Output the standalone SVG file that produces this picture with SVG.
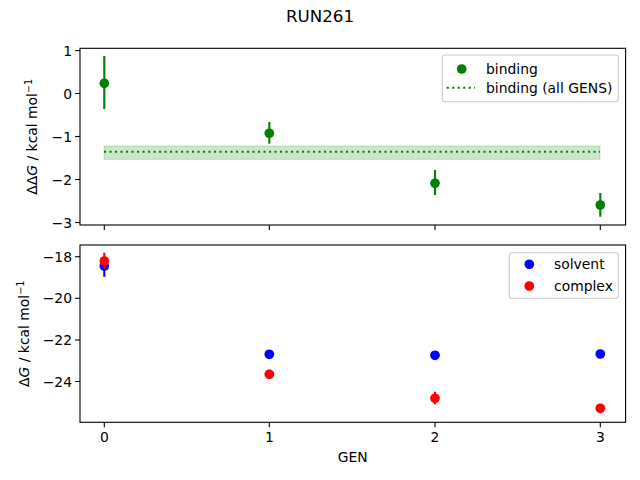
<svg xmlns="http://www.w3.org/2000/svg" width="640" height="480" viewBox="0 0 640 480">
<style>
text{font-family:"DejaVu Sans",sans-serif;font-size:13.9px;fill:#000}
.spine{fill:none;stroke:#000;stroke-width:1.1}
.tick{stroke:#000;stroke-width:1.1}
.g{fill:#008000}.ge{stroke:#008000;stroke-width:2.1}
.b{fill:#0000ff}.be{stroke:#0000ff;stroke-width:2.1}
.r{fill:#ff0000}.re{stroke:#ff0000;stroke-width:2.1}
.dot{stroke:#008000;stroke-width:2.1;stroke-dasharray:2.1 3.4;fill:none}
.leg{fill:#fff;fill-opacity:0.8;stroke:#cccccc;stroke-width:1.1}
.yt{text-anchor:end}.xt{text-anchor:middle}
</style>
<rect width="640" height="480" fill="#fff"/>
<text x="320" y="22" text-anchor="middle" style="font-size:16.7px">RUN261</text>

<g id="top-axes">
<rect x="104" y="146" width="496" height="13.3" fill="#008000" fill-opacity="0.2" stroke="#008000" stroke-opacity="0.2"/>
<line class="dot" x1="104" y1="151.7" x2="600" y2="151.7"/>
<g id="binding-points">
<line class="ge" x1="104.3" y1="56" x2="104.3" y2="109"/><circle class="g" cx="104.3" cy="83.3" r="4.85"/>
<line class="ge" x1="269.3" y1="122" x2="269.3" y2="143.7"/><circle class="g" cx="269.3" cy="133.3" r="4.85"/>
<line class="ge" x1="435" y1="170" x2="435" y2="195"/><circle class="g" cx="435" cy="183.3" r="4.85"/>
<line class="ge" x1="600.3" y1="193" x2="600.3" y2="216.7"/><circle class="g" cx="600.3" cy="205" r="4.85"/>
</g>
<rect class="spine" x="80" y="48.3" width="545.6" height="176.7"/>
<g class="tick">
<line x1="75.1" y1="50.6" x2="80" y2="50.6"/><line x1="75.1" y1="93.5" x2="80" y2="93.5"/><line x1="75.1" y1="136.5" x2="80" y2="136.5"/><line x1="75.1" y1="179.5" x2="80" y2="179.5"/><line x1="75.1" y1="222.5" x2="80" y2="222.5"/>
<line x1="104.3" y1="225" x2="104.3" y2="229.9"/><line x1="269.3" y1="225" x2="269.3" y2="229.9"/><line x1="435" y1="225" x2="435" y2="229.9"/><line x1="600.3" y1="225" x2="600.3" y2="229.9"/>
</g>
<text class="yt" x="72" y="55.6">1</text>
<text class="yt" x="72" y="98.5">0</text>
<text class="yt" x="72" y="141.5">−1</text>
<text class="yt" x="72" y="184.5">−2</text>
<text class="yt" x="72" y="227.5">−3</text>
<text transform="translate(37,136.7) rotate(-90)" text-anchor="middle">ΔΔ<tspan font-style="italic">G</tspan> / kcal mol<tspan dy="-5" style="font-size:9.7px">−1</tspan></text>
<g id="legend-top">
<rect class="leg" x="442.3" y="55" width="176" height="46.7" rx="2.8"/>
<circle class="g" cx="461.7" cy="69" r="4.85"/>
<line class="dot" x1="446.7" y1="87.7" x2="475" y2="87.7"/>
<text x="486" y="73.8">binding</text>
<text x="486" y="92.7">binding (all GENS)</text>
</g>
</g>

<g id="bottom-axes">
<g id="solvent-points">
<line class="be" x1="104.3" y1="257" x2="104.3" y2="276.7"/><circle class="b" cx="104.3" cy="266" r="4.85"/>
<circle class="b" cx="269.3" cy="354.3" r="4.85"/>
<circle class="b" cx="435" cy="355.3" r="4.85"/>
<circle class="b" cx="600.3" cy="354" r="4.85"/>
</g>
<g id="complex-points">
<line class="re" x1="104.3" y1="252.7" x2="104.3" y2="269"/><circle class="r" cx="104.3" cy="261" r="4.85"/>
<line class="re" x1="269.3" y1="369.7" x2="269.3" y2="379"/><circle class="r" cx="269.3" cy="374.3" r="4.85"/>
<line class="re" x1="435" y1="391.7" x2="435" y2="404.3"/><circle class="r" cx="435" cy="398.3" r="4.85"/>
<line class="re" x1="600.3" y1="404.5" x2="600.3" y2="412"/><circle class="r" cx="600.3" cy="408.3" r="4.85"/>
</g>
<rect class="spine" x="80" y="245" width="545.6" height="177.3"/>
<g class="tick">
<line x1="75.1" y1="256.7" x2="80" y2="256.7"/><line x1="75.1" y1="298.3" x2="80" y2="298.3"/><line x1="75.1" y1="340" x2="80" y2="340"/><line x1="75.1" y1="381.5" x2="80" y2="381.5"/>
<line x1="104.3" y1="422.3" x2="104.3" y2="427.2"/><line x1="269.3" y1="422.3" x2="269.3" y2="427.2"/><line x1="435" y1="422.3" x2="435" y2="427.2"/><line x1="600.3" y1="422.3" x2="600.3" y2="427.2"/>
</g>
<text class="yt" x="72" y="261.7">−18</text>
<text class="yt" x="72" y="303.3">−20</text>
<text class="yt" x="72" y="345">−22</text>
<text class="yt" x="72" y="386.5">−24</text>
<text class="xt" x="104.3" y="442">0</text>
<text class="xt" x="269.3" y="442">1</text>
<text class="xt" x="435" y="442">2</text>
<text class="xt" x="600.3" y="442">3</text>
<text class="xt" x="352.8" y="462">GEN</text>
<text transform="translate(29,333.7) rotate(-90)" text-anchor="middle">Δ<tspan font-style="italic">G</tspan> / kcal mol<tspan dy="-5" style="font-size:9.7px">−1</tspan></text>
<g id="legend-bottom">
<rect class="leg" x="509.3" y="252.7" width="109" height="45.6" rx="2.8"/>
<circle class="b" cx="529.3" cy="264.3" r="4.85"/>
<circle class="r" cx="529.3" cy="286" r="4.85"/>
<text x="554" y="269.3">solvent</text>
<text x="554" y="291">complex</text>
</g>
</g>
</svg>
